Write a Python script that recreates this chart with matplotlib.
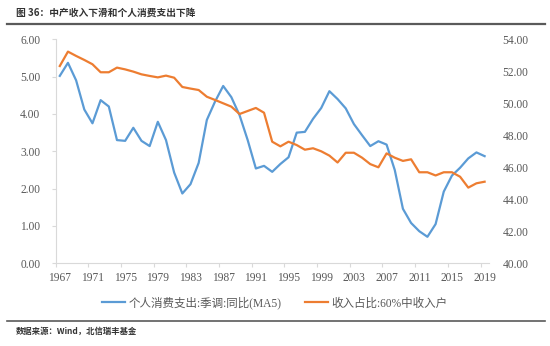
import matplotlib
matplotlib.use("Agg")
import matplotlib.pyplot as plt
from matplotlib.lines import Line2D
import numpy as np

years = list(range(1967, 2020))
pce_yoy_ma5 = [5.02, 5.37, 4.90, 4.12, 3.75, 4.37, 4.20, 3.30, 3.28, 3.63,
               3.28, 3.14, 3.79, 3.30, 2.43, 1.87, 2.12, 2.69, 3.84, 4.33,
               4.75, 4.45, 3.97, 3.30, 2.54, 2.61, 2.45, 2.66, 2.84, 3.50,
               3.52, 3.87, 4.16, 4.61, 4.40, 4.15, 3.73, 3.43, 3.14, 3.27,
               3.18, 2.50, 1.46, 1.08, 0.86, 0.71, 1.05, 1.92, 2.35, 2.56,
               2.81, 2.97, 2.87]
middle60_share = [52.33, 53.23, 52.96, 52.71, 52.44, 51.94, 51.94, 52.23, 52.12, 51.98,
                  51.81, 51.71, 51.62, 51.73, 51.60, 51.02, 50.92, 50.83, 50.41, 50.21,
                  50.00, 49.79, 49.33, 49.52, 49.71, 49.41, 47.60, 47.31, 47.60, 47.39,
                  47.10, 47.19, 47.00, 46.73, 46.30, 46.91, 46.91, 46.60, 46.20, 46.00,
                  46.87, 46.60, 46.40, 46.50, 45.69, 45.69, 45.49, 45.69, 45.69, 45.41,
                  44.73, 45.00, 45.10]
left_ticks = [0, 1, 2, 3, 4, 5, 6]
right_ticks = [40, 42, 44, 46, 48, 50, 52, 54]
label_pce = "个人消费支出:季调:同比(MA5)"
label_share = "收入占比:60%中收入户"
title_text = "图 36：中产收入下滑和个人消费支出下降"
source_text = "数据来源：Wind，北信瑞丰基金"

BLUE = "#5B9BD5"
ORANGE = "#ED7D31"
TICK_COLOR = "#595959"
AXIS_COLOR = "#D9D9D9"
serif = ["Liberation Serif", "Noto Sans CJK SC"]
cjk = ["Noto Sans CJK SC", "DejaVu Sans"]

fig = plt.figure(figsize=(5.5, 3.46), dpi=100)
ax = fig.add_axes([55.7 / 550, 1 - 263.3 / 346, (488.7 - 55.7) / 550, (263.3 - 39.3) / 346])
ax2 = ax.twinx()

x = np.arange(len(years))
ax.plot(x, pce_yoy_ma5, color=BLUE, lw=1.6, solid_joinstyle="round", zorder=3)
ax2.plot(x, middle60_share, color=ORANGE, lw=1.6, solid_joinstyle="round", zorder=3)

ax.set_xlim(-0.5, len(years) - 0.5)
ax.set_ylim(0, 6)
ax2.set_ylim(40, 54)

# category labels every 4 years, tick marks on the category boundaries
ax.set_xticks(x[::4])
ax.set_xticklabels([str(years[i]) for i in range(0, len(years), 4)])
ax.set_xticks(np.arange(-0.5, len(years) - 1, 4), minor=True)
ax.tick_params(axis="x", which="major", length=0, pad=6, labelsize=8.3, labelcolor=TICK_COLOR)
ax.tick_params(axis="x", which="minor", length=3, color=AXIS_COLOR, width=0.8)

ax.set_yticks(left_ticks)
ax.set_yticklabels([f"{v:.2f}" for v in left_ticks])
ax.tick_params(axis="y", length=3, color=AXIS_COLOR, width=0.8, pad=8,
               labelsize=8.3, labelcolor=TICK_COLOR)
ax2.set_yticks(right_ticks)
ax2.set_yticklabels([f"{v:.2f}" for v in right_ticks])
ax2.tick_params(axis="y", length=0, pad=10, labelsize=8.3, labelcolor=TICK_COLOR)

for a in (ax, ax2):
    for lab in a.get_xticklabels() + a.get_yticklabels():
        lab.set_fontfamily(serif)
    for s in ("top", "right"):
        a.spines[s].set_visible(False)
    a.spines["left"].set_visible(False)
    a.spines["bottom"].set_visible(False)
ax.spines["left"].set_visible(True)
ax.spines["bottom"].set_visible(True)
ax.spines["left"].set_color(AXIS_COLOR)
ax.spines["bottom"].set_color(AXIS_COLOR)
ax.spines["left"].set_linewidth(0.8)
ax.spines["bottom"].set_linewidth(0.8)

handles = [Line2D([], [], color=BLUE, lw=1.6), Line2D([], [], color=ORANGE, lw=1.6)]
leg = fig.legend(handles, [label_pce, label_share], loc="center",
                 bbox_to_anchor=(0.5, 1 - 303 / 346), ncol=2, frameon=False,
                 handlelength=2.0, handletextpad=0.3, columnspacing=2.0,
                 prop={"family": serif, "size": 8.3})
for t in leg.get_texts():
    t.set_color(TICK_COLOR)

fig.text(16 / 550, 1 - 13 / 346, title_text, fontsize=7, fontweight="bold",
         family=cjk, color="#333333", va="center", ha="left")
fig.add_artist(Line2D([7 / 550, 545 / 550], [1 - 23.5 / 346] * 2, color="#5A5A5A", lw=1.6,
                      transform=fig.transFigure))
fig.add_artist(Line2D([7 / 550, 545 / 550], [1 - 320.5 / 346] * 2, color="#5A5A5A", lw=1.2,
                      transform=fig.transFigure))
fig.text(16 / 550, 1 - 331 / 346, source_text, fontsize=6, fontweight="bold",
         family=cjk, color="#333333", va="center", ha="left")

fig.savefig("out.png", dpi=100)
